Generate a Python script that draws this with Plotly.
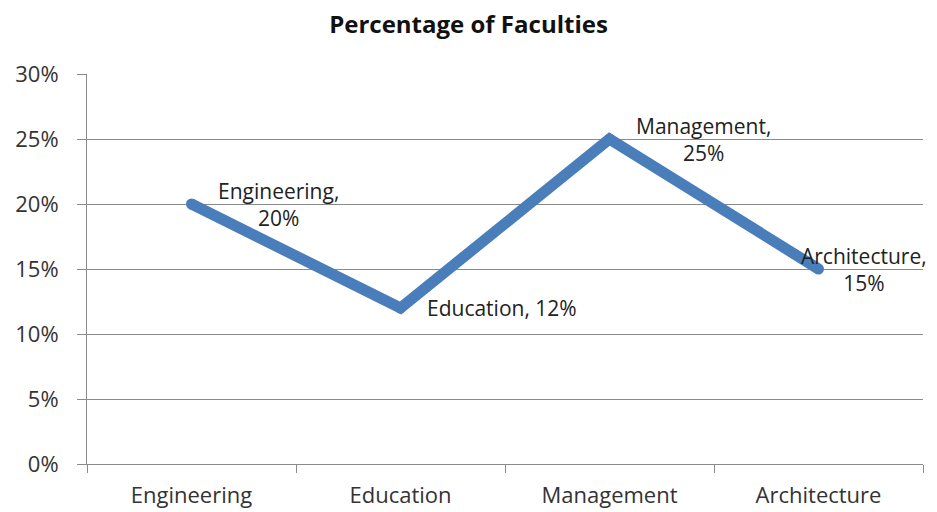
import plotly.graph_objects as go

# Share of faculties by department
categories = ["Engineering", "Education", "Management", "Architecture"]
shares = [0.20, 0.12, 0.25, 0.15]
y_ticks = [0.0, 0.05, 0.10, 0.15, 0.20, 0.25, 0.30]

# Label text for each point: "Category, NN%", split onto two lines where long
line_breaks = ["<br>", " ", "<br>", "<br>"]
label_shift = [24, 24, 24, -20]
label_text = [f"{c},{br}{round(v * 100)}%" for c, v, br in zip(categories, shares, line_breaks)]

font_family = "Open Sans, Liberation Sans, sans-serif"
grid_color = "#8a8a8a"
line_color = "#4a7ebb"

fig = go.Figure()
fig.add_trace(go.Scatter(
    x=categories,
    y=shares,
    mode="lines+markers",
    line=dict(color=line_color, width=11),
    marker=dict(color=line_color, size=11, line=dict(width=0)),
    hoverinfo="x+y",
))

for c, v, t, dx in zip(categories, shares, label_text, label_shift):
    fig.add_annotation(
        x=c, y=v, text=t, showarrow=False,
        xanchor="left", yanchor="middle", align="center",
        xshift=dx, font=dict(family=font_family, size=21, color="#222222"),
    )

fig.update_layout(
    width=937, height=512,
    margin=dict(l=87, r=14, t=74, b=48),
    paper_bgcolor="white", plot_bgcolor="white",
    showlegend=False,
    title=dict(
        text="<b>Percentage of Faculties</b>",
        x=0.5, xanchor="center", y=0.951, yanchor="middle",
        font=dict(family=font_family, size=24, color="#111111"),
    ),
    font=dict(family=font_family, size=22, color="#333333"),
)

fig.update_xaxes(
    type="category",
    categoryorder="array", categoryarray=categories,
    range=[-0.5, len(categories) - 0.5],
    tickson="boundaries",
    ticks="outside", ticklen=8, tickcolor=grid_color,
    showline=True, linecolor=grid_color, linewidth=1,
    showgrid=False,
    automargin=False,
    tickfont=dict(family=font_family, size=22, color="#333333"),
    ticklabelstandoff=12,
)

fig.update_yaxes(
    range=[0, 0.30],
    tickvals=y_ticks, tickformat=".0%",
    ticks="outside", ticklen=9, tickcolor=grid_color,
    showline=True, linecolor=grid_color, linewidth=1,
    showgrid=True, gridcolor=grid_color, gridwidth=1,
    zeroline=False,
    automargin=False,
    tickfont=dict(family=font_family, size=22, color="#333333"),
    ticklabelstandoff=14,
)

fig.write_html("out.html")
